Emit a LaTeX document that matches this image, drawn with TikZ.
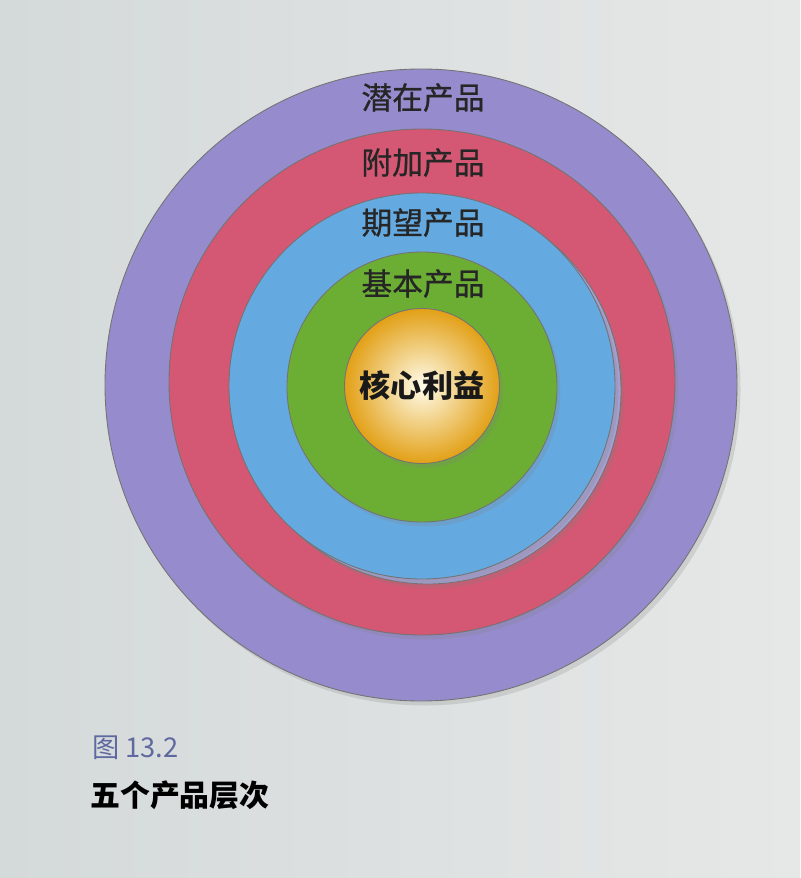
\documentclass[tikz,border=0pt]{standalone}
\usepackage{fontspec}
\newfontfamily\cjk{Noto Sans CJK SC}
\newfontfamily\cjklabel[FakeBold=0.8]{Noto Sans CJK SC}
\usepackage{tikz}
\usetikzlibrary{positioning, calc, shadows}
\definecolor{paperleft}{RGB}{212,217,218}
\definecolor{paperright}{RGB}{230,232,231}
\definecolor{potentialcol}{RGB}{150,140,205}
\definecolor{augmentedcol}{RGB}{212,88,115}
\definecolor{expectedcol}{RGB}{100,170,225}
\definecolor{rimcol}{RGB}{165,160,210}
\definecolor{basiccol}{RGB}{108,174,52}
\definecolor{coreout}{RGB}{226,160,22}
\definecolor{corein}{RGB}{255,252,235}
\definecolor{figblue}{RGB}{95,105,160}
\tikzstyle{layer} = [circle, inner sep=0pt, draw=black!55, line width=0.5pt, drop shadow={opacity=0.22, shadow xshift=0.07cm, shadow yshift=-0.09cm}]
\tikzstyle{layertext} = [font=\cjklabel\fontsize{17.5}{20}\selectfont, text=black!85]
\tikzstyle{coretext} = [font=\cjk\bfseries\fontsize{17.7}{20}\selectfont, text=black!90]

\begin{document}
\begin{tikzpicture}

% paper
\shade [left color=paperleft, right color=paperright, use as bounding box] (0,0) rectangle (16,-17.56);

% Layers
\node (potential) [layer, fill=potentialcol, minimum size=12.64cm] at (8.42,-7.70) {};
\node (augmented) [layer, fill=augmentedcol, minimum size=10.12cm] at (8.44,-7.64) {};
\node (expectedrim) [layer, fill=rimcol, minimum size=7.72cm] at (8.56,-7.82) {};
\node (expected) [layer, fill=expectedcol, minimum size=7.72cm, drop shadow={opacity=0}] at (8.44,-7.72) {};
\node (basic) [layer, fill=basiccol, minimum size=5.40cm] at (8.44,-7.74) {};
\node (core) [layer, shading=radial, inner color=corein, outer color=coreout, minimum size=3.10cm] at (8.44,-7.72) {};

% Labels
\node (potentialtext) [layertext] at ($(potential.north)+(0.04,-0.58)$) {潜在产品};
\node (augmentedtext) [layertext] at ($(augmented.north)+(0.02,-0.68)$) {附加产品};
\node (expectedtext) [layertext] at ($(expected.north)+(0.02,-0.60)$) {期望产品};
\node (basictext) [layertext] at ($(basic.north)+(0.02,-0.64)$) {基本产品};
\node (coretext) [coretext] at (core) {核心利益};

% Caption
\node (figno) [anchor=west, inner sep=0pt, text=figblue, font=\cjk\fontsize{15.5}{18}\selectfont] at (1.84,-14.96) {图 13.2};
\node (figtitle) [anchor=west, inner sep=0pt, font=\cjk\bfseries\fontsize{17}{20}\selectfont] at (1.80,-15.90) {五个产品层次};

\end{tikzpicture}
\end{document}
